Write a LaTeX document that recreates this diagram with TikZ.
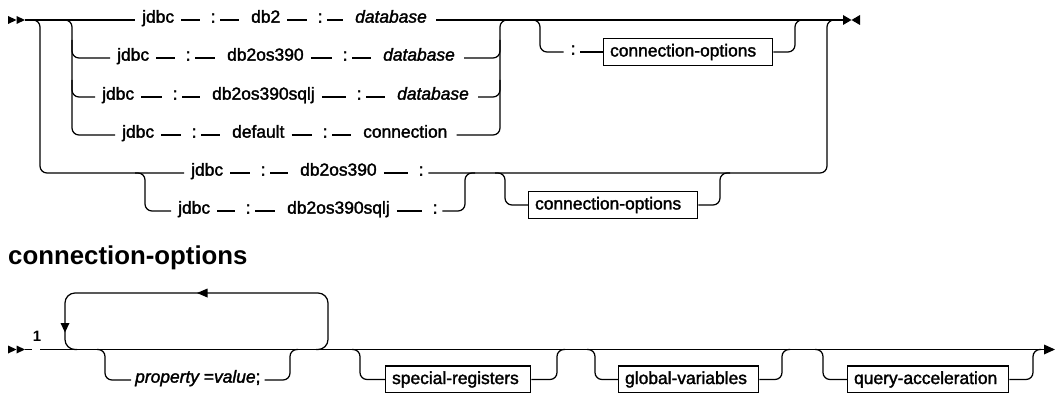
\documentclass[tikz,border=0pt]{standalone}
\usepackage{fontspec}
\setmainfont{Liberation Sans}
\newfontfamily\railfont{Liberation Sans}[FakeBold=1.8]
\begin{document}
\begin{tikzpicture}[x=1pt,y=-1pt,
  rail/.style={line width=1.25pt, rounded corners=7pt},
  looprail/.style={line width=1.25pt, rounded corners=10pt},
  tok/.style={inner sep=0pt, anchor=mid west, font=\railfont\fontsize{17.4}{20}\selectfont},
  var/.style={tok, font=\railfont\fontsize{17.4}{20}\selectfont\itshape},
  w2c/.style={line width=1.25pt, shorten <=7pt, shorten >=10.5pt},
  c2w/.style={line width=1.25pt, shorten <=4.5pt, shorten >=12pt},
  optbox/.style={draw, line width=1.25pt, anchor=west, minimum height=27pt,
    inner xsep=6.5pt, inner ysep=0pt, align=left, font=\railfont\fontsize{17.4}{20}\selectfont},
  tip/.style={fill=black}]
\useasboundingbox (0,0) rectangle (1055,393);

% ---------- first diagram: start and end markers ----------
\fill[tip] (8,16) -- (16.5,20) -- (8,24) -- cycle;
\fill[tip] (16.5,16) -- (25,20) -- (16.5,24) -- cycle;
\coordinate (s1) at (25,20);
\fill[tip] (843,15) -- (851.5,20) -- (843,25) -- cycle;
\fill[tip] (860,15) -- (851.5,20) -- (860,25) -- cycle;
\coordinate (e1) at (843,20);

% ---------- row 1 ----------
\node[tok] (j1) at (142,20) {jdbc};
\node[tok] (c1a) at (210.6,20) {:};
\node[tok] (n1) at (251,20) {db2};
\node[tok] (c1b) at (317.6,20) {:};
\node[var] (d1) at (355,20) {database};
% ---------- row 2 ----------
\node[tok] (j2) at (117,58) {jdbc};
\node[tok] (c2a) at (185.6,58) {:};
\node[tok] (n2) at (227,58) {db2os390};
\node[tok] (c2b) at (342.6,58) {:};
\node[var] (d2) at (383,58) {database};
% ---------- row 3 ----------
\node[tok] (j3) at (102,97) {jdbc};
\node[tok] (c3a) at (172.6,97) {:};
\node[tok] (n3) at (212,97) {db2os390sqlj};
\node[tok] (c3b) at (356.6,97) {:};
\node[var] (d3) at (397,97) {database};
% ---------- row 4 ----------
\node[tok] (j4) at (122,135) {jdbc};
\node[tok] (c4a) at (191.6,135) {:};
\node[tok] (n4) at (232,135) {default};
\node[tok] (c4b) at (322.6,135) {:};
\node[tok] (d4) at (363,135) {connection};
% ---------- row 5 ----------
\node[tok] (j5) at (191,173) {jdbc};
\node[tok] (c5a) at (260.6,173) {:};
\node[tok] (n5) at (300,173) {db2os390};
\node[tok] (c5b) at (418.6,173) {:};
% ---------- row 6 ----------
\node[tok] (j6) at (178,211) {jdbc};
\node[tok] (c6a) at (245.6,211) {:};
\node[tok] (n6) at (287,211) {db2os390sqlj};
\node[tok] (c6b) at (432.6,211) {:};
% ---------- optional parts ----------
\node[tok] (co) at (570.6,52) {:};
\node[optbox, text width=156pt] (ot) at (603,52) {connection-options};
\node[optbox, text width=156pt] (ob) at (528,205) {connection-options};

% token connectors
\foreach \r in {1,2,3,4}{
  \draw[w2c] (j\r.mid east) -- (c\r a.mid west);
  \draw[c2w] (c\r a.mid east) -- (n\r.mid west);
  \draw[w2c] (n\r.mid east) -- (c\r b.mid west);
  \draw[c2w] (c\r b.mid east) -- (d\r.mid west);
}
\foreach \r in {5,6}{
  \draw[w2c] (j\r.mid east) -- (c\r a.mid west);
  \draw[c2w] (c\r a.mid east) -- (n\r.mid west);
  \draw[w2c] (n\r.mid east) -- (c\r b.mid west);
}

% main line
\draw[rail, shorten >=7pt] (s1) -- (j1.mid west);
\draw[rail, shorten <=9pt] (d1.mid east) -- (e1);

% left branches
\draw[rail, shorten >=7pt] (62,20) -| (72,135) -- (j4.mid west);
\draw[rail, shorten >=7pt] (72,40) |- (j2.mid west);
\draw[rail, shorten >=7pt] (72,80) |- (j3.mid west);
\draw[rail, shorten >=7pt] (30,20) -| (40,173) -- (j5.mid west);
\draw[rail, shorten >=7pt] (135,173) -| (145,211) -- (j6.mid west);

% right merges
\draw[rail, shorten <=9pt] (d4.mid east) -| (500,20) -- (510,20);
\draw[rail, shorten <=9pt] (d2.mid east) -| (500,40);
\draw[rail, shorten <=9pt] (d3.mid east) -| (500,80);
\draw[rail, shorten <=4.5pt] (c6b.mid east) -| (465,173) -- (475,173);
\draw[rail, shorten <=4.5pt] (c5b.mid east) -| (827,20) -- (837,20);

% optional connection-options, first group
\draw[rail, shorten >=7pt] (530,20) -| (540,52) -- (co.mid west);
\draw[rail, shorten <=4.5pt] (co.mid east) -- (ot.west);
\draw[rail] (ot.east) -| (795,20) -- (805,20);

% optional connection-options, second group
\draw[rail] (495,173) -| (505,205) -- (ob.west);
\draw[rail] (ob.east) -| (720,173) -- (730,173);

% ---------- heading ----------
\node[anchor=base west, inner sep=0pt, font=\bfseries\fontsize{25.8}{30}\selectfont] (head) at (8,264) {connection-options};

% ---------- second diagram ----------
\fill[tip] (8,345.5) -- (16.5,349.5) -- (8,353.5) -- cycle;
\fill[tip] (16.5,345.5) -- (25,349.5) -- (16.5,353.5) -- cycle;
\coordinate (s2) at (25,349.5);
\coordinate (g1) at (32,349.5);
\coordinate (g2) at (40,349.5);
\coordinate (e2) at (1044,349.5);
\fill[tip] (1044,344.5) -- (1055,349.5) -- (1044,354.5) -- cycle;
\node[anchor=base, inner sep=0pt, font=\bfseries\fontsize{15}{17}\selectfont] (fn) at (37,341) {1};

\draw[rail] (s2) -- (g1);
\draw[rail] (g2) -- (e2);

% repetition loop
\draw[looprail] (316,349.5) -| (328,293) -| (65,349.5) -- (77,349.5);
\fill[tip] (60.5,323) -- (69.5,323) -- (65,332.5) -- cycle;
\fill[tip] (207.5,288.5) -- (207.5,297.5) -- (197,293) -- cycle;

% property=value;
\node[tok] (pv) at (135,380) {\itshape property \upshape=\itshape value\upshape;};
\draw[rail, shorten >=4pt] (97,349.5) -| (105,380) -- (pv.mid west);
\draw[rail, shorten <=4pt] (pv.mid east) -| (290,349.5) -- (298,349.5);

% optional boxes
\node[optbox, text width=132pt] (sr) at (385,379.5) {special-registers};
\node[optbox, text width=127pt] (gv) at (618,379.5) {global-variables};
\node[optbox, text width=148pt] (qa) at (847,379.5) {query-acceleration};
\draw[rail] (352,349.5) -| (360,379.5) -- (sr.west);
\draw[rail] (sr.east) -| (557,349.5) -- (565,349.5);
\draw[rail] (587,349.5) -| (595,379.5) -- (gv.west);
\draw[rail] (gv.east) -| (782,349.5) -- (790,349.5);
\draw[rail] (815,349.5) -| (823,379.5) -- (qa.west);
\draw[rail] (qa.east) -| (1033,349.5) -- (1041,349.5);
\end{tikzpicture}
\end{document}
